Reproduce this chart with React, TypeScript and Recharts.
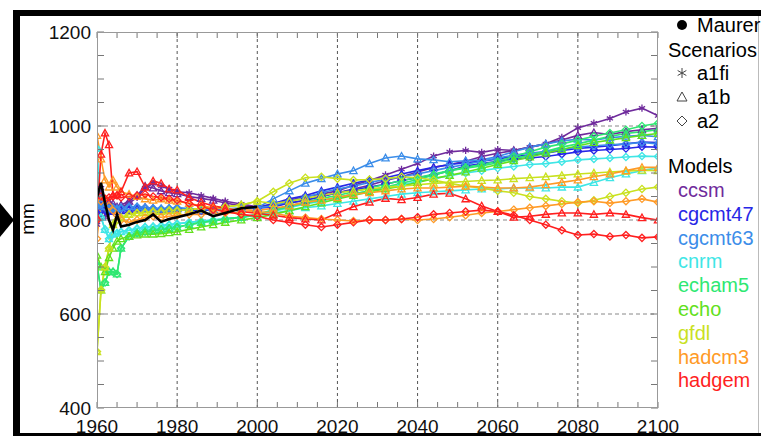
import { LineChart, Line, XAxis, YAxis, ReferenceLine } from 'recharts';

const years = [1960, 1961, 1962, 1963, 1964, 1965, 1966, 1968, 1970, 1972, 1974, 1976, 1978, 1980, 1983, 1986, 1989, 1992, 1996, 2000,
  2004, 2008, 2012, 2016, 2020, 2024, 2028, 2032, 2036, 2040, 2044, 2048, 2052, 2056, 2060, 2064, 2068, 2072, 2076, 2080, 2084, 2088, 2092, 2096, 2100];

const maurer = [849, 879, 836, 800, 779, 811, 786, 790, 796, 800, 812, 796, 802, 806, 812, 820, 808, 815, 825, 828];

// 1960-2000 runs per model
const ccsmHistA = [790, 868, 806, 830, 828, 822, 826, 836, 848, 868, 878, 872, 866, 860, 858, 852, 846, 840, 834, 828];
const ccsmHistB = [805, 855, 815, 838, 835, 828, 832, 840, 852, 872, 868, 862, 858, 856, 850, 846, 842, 836, 830, 826];
const cgcmt47Hist = [815, 830, 822, 818, 820, 818, 820, 822, 825, 826, 824, 822, 823, 824, 822, 820, 822, 823, 824, 825];
const cgcmt63Hist = [830, 835, 828, 824, 826, 824, 826, 828, 828, 826, 825, 824, 825, 826, 824, 822, 823, 824, 825, 826];
const cnrmHist = [952, 806, 780, 760, 770, 772, 775, 778, 782, 785, 786, 788, 790, 792, 795, 798, 800, 803, 806, 810];
const echam5Hist = [704, 651, 667, 690, 690, 685, 740, 765, 772, 775, 778, 780, 782, 785, 790, 795, 798, 802, 806, 812];
const echoHist = [725, 700, 690, 720, 740, 755, 760, 765, 768, 770, 770, 771, 773, 775, 780, 785, 790, 795, 800, 805];
const gfdlHist = [520, 651, 700, 740, 790, 800, 805, 812, 815, 816, 818, 818, 820, 820, 822, 825, 826, 828, 832, 840];
const hadcm3HistA = [980, 930, 885, 870, 885, 870, 860, 855, 850, 845, 842, 845, 842, 840, 835, 830, 826, 824, 822, 820];
const hadcm3HistB = [760, 840, 845, 830, 820, 810, 800, 795, 800, 805, 808, 806, 808, 810, 812, 812, 814, 815, 816, 818];
const hadgemHistA = [806, 940, 985, 960, 853, 853, 860, 900, 903, 870, 883, 878, 866, 864, 848, 838, 830, 825, 818, 814];
const hadgemHistB = [800, 850, 845, 848, 850, 852, 848, 850, 852, 855, 850, 848, 845, 842, 835, 828, 822, 818, 812, 808];

// 2004-2100 scenario runs
const ccsmA1fi = [834, 842, 850, 855, 862, 874, 884, 896, 908, 920, 936, 945, 948, 944, 950, 948, 955, 962, 976, 996, 1006, 1016, 1030, 1038, 1022];
const ccsmA1b = [830, 836, 842, 850, 858, 866, 874, 884, 892, 902, 912, 918, 925, 935, 942, 948, 955, 962, 970, 980, 986, 982, 988, 992, 995];
const cgcmt47A1b = [835, 845, 852, 862, 870, 878, 885, 890, 898, 905, 912, 918, 922, 925, 930, 935, 938, 942, 948, 952, 955, 958, 962, 966, 965];
const cgcmt47A2 = [828, 836, 842, 850, 858, 864, 870, 876, 884, 890, 896, 905, 915, 920, 925, 930, 932, 935, 940, 945, 948, 950, 952, 956, 955];
const cgcmt63A1b = [845, 862, 878, 888, 898, 905, 920, 932, 936, 930, 928, 924, 926, 928, 935, 945, 955, 962, 968, 972, 970, 975, 978, 980, 977];
const cgcmt63A2 = [830, 840, 848, 858, 866, 872, 880, 886, 892, 898, 905, 912, 918, 925, 932, 938, 942, 946, 950, 955, 958, 960, 962, 965, 962];
const cnrmA1b = [815, 820, 826, 830, 835, 840, 845, 850, 855, 858, 860, 862, 864, 866, 866, 868, 868, 868, 870, 870, 880, 890, 898, 905, 911];
const cnrmA2 = [818, 826, 834, 840, 848, 855, 862, 868, 875, 882, 888, 894, 900, 905, 910, 914, 918, 920, 924, 928, 930, 932, 934, 936, 935];
const echam5A2 = [820, 828, 836, 842, 848, 855, 862, 870, 878, 886, 895, 905, 912, 918, 925, 935, 945, 955, 962, 970, 978, 985, 992, 1000, 1006];
const echam5A1b = [822, 830, 838, 846, 852, 860, 868, 876, 884, 890, 898, 905, 910, 915, 922, 930, 938, 946, 955, 962, 970, 978, 984, 988, 992];
const echoA1b = [812, 820, 828, 836, 845, 852, 860, 866, 872, 880, 888, 895, 902, 910, 918, 926, 934, 942, 950, 958, 965, 970, 975, 980, 984];
const gfdlA2 = [860, 878, 890, 892, 888, 885, 886, 888, 892, 890, 885, 878, 872, 868, 862, 858, 850, 845, 840, 836, 842, 850, 858, 866, 870];
const gfdlA1b = [835, 840, 846, 852, 858, 862, 866, 870, 872, 875, 878, 880, 882, 884, 885, 888, 890, 892, 895, 898, 900, 902, 904, 906, 905];
const hadcm3A1b = [825, 830, 838, 842, 848, 855, 858, 862, 866, 868, 868, 870, 872, 870, 868, 868, 870, 875, 880, 885, 892, 898, 905, 912, 912];
const hadcm3A2 = [815, 808, 805, 802, 800, 798, 800, 800, 802, 800, 802, 806, 810, 815, 818, 822, 826, 830, 834, 838, 840, 836, 840, 845, 838];
const hadgemA1b = [810, 805, 802, 800, 815, 828, 838, 846, 843, 848, 855, 857, 845, 830, 818, 806, 808, 812, 815, 815, 812, 815, 812, 805, 800];
const hadgemA2 = [800, 795, 790, 785, 790, 795, 800, 800, 802, 806, 812, 815, 818, 821, 818, 810, 800, 790, 778, 768, 770, 765, 768, 762, 764];

const models = ['ccsm', 'cgcmt47', 'cgcmt63', 'cnrm', 'echam5', 'echo', 'gfdl', 'hadcm3', 'hadgem'];
const modelColors = ['#6f2b9c', '#2727e6', '#3b8de9', '#3fe6e6', '#2ee872', '#62e01c', '#c9e11f', '#ff9a26', '#ff1f1f'];
const scenarios = ['a1fi', 'a1b', 'a2'];

const xTicks = [1960, 1965, 1970, 1975, 1980, 1985, 1990, 1995, 2000, 2005, 2010, 2015, 2020, 2025, 2030, 2035, 2040, 2045, 2050, 2055, 2060, 2065, 2070, 2075, 2080, 2085, 2090, 2095, 2100];
const yTicks = [400, 450, 500, 550, 600, 650, 700, 750, 800, 850, 900, 950, 1000, 1050, 1100, 1150, 1200];
const gridYears = [1980, 2000, 2020, 2040, 2060, 2080];
const gridValues = [600, 800, 1000];

const color = (m: string) => modelColors[models.indexOf(m)];

const series = [
  { key: 'ccsmA1fi', model: 'ccsm', shape: 'star', values: [...ccsmHistA, ...ccsmA1fi] },
  { key: 'ccsmA1b', model: 'ccsm', shape: 'triangle', values: [...ccsmHistB, ...ccsmA1b] },
  { key: 'cgcmt47A1b', model: 'cgcmt47', shape: 'triangle', values: [...cgcmt47Hist, ...cgcmt47A1b] },
  { key: 'cgcmt47A2', model: 'cgcmt47', shape: 'diamond', values: [...cgcmt47Hist, ...cgcmt47A2] },
  { key: 'cgcmt63A1b', model: 'cgcmt63', shape: 'triangle', values: [...cgcmt63Hist, ...cgcmt63A1b] },
  { key: 'cgcmt63A2', model: 'cgcmt63', shape: 'diamond', values: [...cgcmt63Hist, ...cgcmt63A2] },
  { key: 'cnrmA1b', model: 'cnrm', shape: 'triangle', values: [...cnrmHist, ...cnrmA1b] },
  { key: 'cnrmA2', model: 'cnrm', shape: 'diamond', values: [...cnrmHist, ...cnrmA2] },
  { key: 'echam5A2', model: 'echam5', shape: 'diamond', values: [...echam5Hist, ...echam5A2] },
  { key: 'echam5A1b', model: 'echam5', shape: 'triangle', values: [...echam5Hist, ...echam5A1b] },
  { key: 'echoA1b', model: 'echo', shape: 'triangle', values: [...echoHist, ...echoA1b] },
  { key: 'gfdlA2', model: 'gfdl', shape: 'diamond', values: [...gfdlHist, ...gfdlA2] },
  { key: 'gfdlA1b', model: 'gfdl', shape: 'triangle', values: [...gfdlHist, ...gfdlA1b] },
  { key: 'hadcm3A1b', model: 'hadcm3', shape: 'triangle', values: [...hadcm3HistA, ...hadcm3A1b] },
  { key: 'hadcm3A2', model: 'hadcm3', shape: 'diamond', values: [...hadcm3HistB, ...hadcm3A2] },
  { key: 'hadgemA1b', model: 'hadgem', shape: 'triangle', values: [...hadgemHistA, ...hadgemA1b] },
  { key: 'hadgemA2', model: 'hadgem', shape: 'diamond', values: [...hadgemHistB, ...hadgemA2] },
];

const data = years.map((year, i) => {
  const row: Record<string, number | null> = { year, maurer: i < maurer.length ? maurer[i] : null };
  series.forEach((s) => { row[s.key] = s.values[i]; });
  return row;
});

const FONT = '"Liberation Sans", Arial, Helvetica, sans-serif';
const PL = 97, PR = 658, PT = 32, PB = 408;

function Marker({ cx, cy, shape, stroke, r = 3.6, sw = 1.3 }: any) {
  if (cx == null || cy == null || isNaN(cx) || isNaN(cy)) return null;
  if (shape === 'triangle') {
    return <polygon points={`${cx},${cy - r} ${cx + r},${cy + r * 0.8} ${cx - r},${cy + r * 0.8}`} fill="none" stroke={stroke} strokeWidth={sw} />;
  }
  if (shape === 'diamond') {
    return <polygon points={`${cx},${cy - r} ${cx + r},${cy} ${cx},${cy + r} ${cx - r},${cy}`} fill="none" stroke={stroke} strokeWidth={sw} />;
  }
  const a = r * 0.87;
  return (
    <path d={`M${cx},${cy - r}L${cx},${cy + r}M${cx - a},${cy - r / 2}L${cx + a},${cy + r / 2}M${cx - a},${cy + r / 2}L${cx + a},${cy - r / 2}`} stroke={stroke} strokeWidth={sw} />
  );
}

const XTick = ({ x, payload }: any) => {
  const v = payload.value;
  return (
    <g>
      <line x1={x} x2={x} y1={PB} y2={PB - 6} stroke="#777" />
      <line x1={x} x2={x} y1={PT} y2={PT + 6} stroke="#777" />
      {v % 20 === 0 && (
        <text x={x} y={426} textAnchor="middle" dominantBaseline="central" fontSize={19} fontFamily={FONT} fill="#111">{v}</text>
      )}
    </g>
  );
};

const YTick = ({ y, payload }: any) => {
  const v = payload.value;
  return (
    <g>
      <line x1={PL} x2={PL + 7} y1={y} y2={y} stroke="#777" />
      <line x1={PR - 7} x2={PR} y1={y} y2={y} stroke="#777" />
      {v % 200 === 0 && (
        <text x={PL - 6} y={y} textAnchor="end" dominantBaseline="central" fontSize={19} fontFamily={FONT} fill="#111">{v}</text>
      )}
    </g>
  );
};

const Legend = () => {
  const t = { fontSize: 20, fontFamily: FONT, dominantBaseline: 'central' as const };
  return (
    <svg width={761} height={436} style={{ position: 'absolute', left: 0, top: 0, pointerEvents: 'none' }}>
      <circle cx={682} cy={25} r={5} fill="#000" />
      <text x={697} y={25} {...t} fill="#000">Maurer</text>
      <text x={668} y={50} {...t} fill="#000">Scenarios</text>
      {scenarios.map((sc, i) => (
        <g key={sc}>
          <Marker cx={682} cy={73 + i * 24} r={5} sw={1} shape={['star', 'triangle', 'diamond'][i]} stroke="#444" />
          <text x={697} y={73 + i * 24} {...t} fill="#000">{sc}</text>
        </g>
      ))}
      <text x={668} y={166} {...t} fill="#000">Models</text>
      {models.map((m, i) => (
        <text key={m} x={678} y={190 + i * 23.8} {...t} fill={modelColors[i]}>{m}</text>
      ))}
      {/* arrow and y label */}
      <polygon points="0,203 14,220 0,237" fill="#000" />
      <text x={27} y={219} transform="rotate(-90 27 219)" textAnchor="middle" {...t} fontSize={19} fill="#000">mm</text>
    </svg>
  );
};

export default function App() {
  return (
    <div style={{ position: 'absolute', left: 0, top: 0, width: 761, height: 436, background: '#fff', overflow: 'hidden' }}>
      <LineChart width={761} height={436} data={data} margin={{ top: PT, right: 761 - PR, bottom: 0, left: 0 }}>
        {gridYears.map((g) => (
          <ReferenceLine key={`gx${g}`} x={g} stroke="#555" strokeDasharray="3 3" />
        ))}
        {gridValues.map((g) => (
          <ReferenceLine key={`gy${g}`} y={g} stroke="#888" strokeDasharray="4 3" />
        ))}
        <XAxis dataKey="year" type="number" domain={[1960, 2100]} ticks={xTicks} height={436 - PB} axisLine={false} tickLine={false} tick={<XTick />} interval={0} allowDataOverflow />
        <YAxis type="number" domain={[400, 1200]} ticks={yTicks} width={PL} axisLine={false} tickLine={false} tick={<YTick />} interval={0} allowDataOverflow />
        {series.map((s) => (
          <Line
            key={s.key}
            dataKey={s.key}
            type="linear"
            stroke={color(s.model)}
            strokeWidth={1.6}
            isAnimationActive={false}
            dot={(p: any) => <Marker key={`${s.key}-${p.index}`} cx={p.cx} cy={p.cy} shape={s.shape} stroke={color(s.model)} />}
            activeDot={false}
          />
        ))}
        <Line dataKey="maurer" type="linear" stroke="#000" strokeWidth={2.6} dot={false} isAnimationActive={false} activeDot={false} zIndex={2000} />
      </LineChart>
      {/* plot frame */}
      <div style={{ position: 'absolute', left: PL, top: PT, width: PR - PL, height: PB - PT, border: '1px solid #999', boxSizing: 'border-box', pointerEvents: 'none' }} />
      {/* black outer frame */}
      <div style={{ position: 'absolute', left: 13, top: 10, width: 748, height: 6, background: '#000' }} />
      <div style={{ position: 'absolute', left: 13, top: 10, width: 7, height: 426, background: '#000' }} />
      <div style={{ position: 'absolute', left: 13, top: 433, width: 748, height: 3, background: '#000' }} />
      <div style={{ position: 'absolute', left: 758, top: 16, width: 1, height: 417, background: '#bbb' }} />
      <Legend />
    </div>
  );
}
